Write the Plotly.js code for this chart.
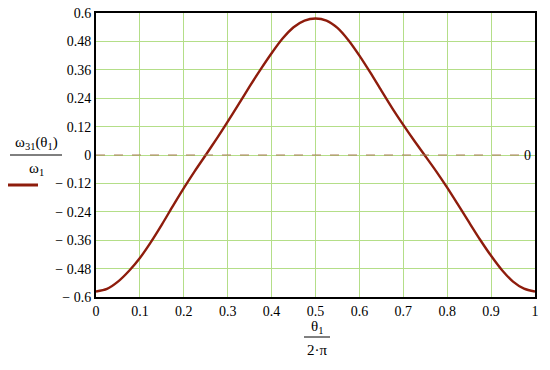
<!DOCTYPE html>
<html>
<head>
<meta charset="utf-8">
<script src="https://cdn.plot.ly/plotly-3.0.1.min.js"></script>
<style>
  body { margin: 0; background: #fff; }
  #plot { width: 550px; height: 370px; }
</style>
</head>
<body>
<div id="plot"></div>
<script>
// theta1 / (2*pi) in 0.025 steps
var thetaRatio = [0, 0.025, 0.05, 0.075, 0.1, 0.125, 0.15, 0.175, 0.2, 0.225,
    0.25, 0.275, 0.3, 0.325, 0.35, 0.375, 0.4, 0.425, 0.45, 0.475,
    0.5, 0.525, 0.55, 0.575, 0.6, 0.625, 0.65, 0.675, 0.7, 0.725,
    0.75, 0.775, 0.8, 0.825, 0.85, 0.875, 0.9, 0.925, 0.95, 0.975, 1];
// omega31(theta1) / omega1
var omegaRatio = [-0.577, -0.566, -0.535, -0.49, -0.435, -0.368, -0.294, -0.216, -0.14, -0.068,
    0.0, 0.069, 0.141, 0.215, 0.29, 0.362, 0.43, 0.492, 0.54, 0.568,
    0.577, 0.568, 0.537, 0.485, 0.42, 0.348, 0.272, 0.197, 0.127, 0.06,
    -0.004, -0.069, -0.138, -0.211, -0.285, -0.358, -0.426, -0.487, -0.535, -0.565, -0.577];

var xTicks = [0, 0.1, 0.2, 0.3, 0.4, 0.5, 0.6, 0.7, 0.8, 0.9, 1];
var xTickText = ['0', '0.1', '0.2', '0.3', '0.4', '0.5', '0.6', '0.7', '0.8', '0.9', '1'];
var yTicks = [0.6, 0.48, 0.36, 0.24, 0.12, 0, -0.12, -0.24, -0.36, -0.48, -0.6];
var yTickText = ['0.6', '0.48', '0.36', '0.24', '0.12', '0',
    '\u2212 0.12', '\u2212 0.24', '\u2212 0.36', '\u2212 0.48', '\u2212 0.6'];
var markerValue = 0;

var W = 550, H = 370;
var m = { l: 96, r: 15, t: 13, b: 73 };
function px(x) { return (x - m.l) / (W - m.l - m.r); }
function py(y) { return (H - m.b - y) / (H - m.t - m.b); }

var traceColor = '#8e1c0c';
var serif = 'Liberation Serif';

var curve = {
    x: thetaRatio,
    y: omegaRatio,
    type: 'scatter',
    mode: 'lines',
    line: { color: traceColor, width: 2.4, shape: 'spline', smoothing: 0.8 },
    hoverinfo: 'none'
};

function label(x, y, text) {
    return { xref: 'paper', yref: 'paper', x: px(x), y: py(y), text: text, showarrow: false,
             xanchor: 'center', yanchor: 'middle', font: { family: serif, size: 15, color: '#000' } };
}

var layout = {
    width: W,
    height: H,
    margin: m,
    paper_bgcolor: '#fff',
    plot_bgcolor: '#fff',
    showlegend: false,
    font: { family: serif, size: 14, color: '#000' },
    xaxis: {
        range: [0, 1],
        tickvals: xTicks,
        ticktext: xTickText,
        showgrid: true,
        gridcolor: '#b4de88',
        gridwidth: 1,
        zeroline: false,
        showline: true,
        linecolor: '#000',
        linewidth: 2,
        mirror: true,
        ticks: '',
        tickfont: { family: serif, size: 14, color: '#000' }
    },
    yaxis: {
        range: [-0.6, 0.6],
        tickvals: yTicks,
        ticktext: yTickText,
        showgrid: true,
        gridcolor: '#b4de88',
        gridwidth: 1,
        zeroline: false,
        showline: true,
        linecolor: '#000',
        linewidth: 2,
        mirror: true,
        ticks: '',
        tickfont: { family: serif, size: 14, color: '#000' }
    },
    shapes: [
        // marker line at 0
        { type: 'line', xref: 'paper', yref: 'y', x0: 0, x1: px(524), y0: markerValue, y1: markerValue,
          line: { color: '#a87a55', width: 1, dash: 'dash' } },
        // y title fraction bar
        { type: 'line', xref: 'paper', yref: 'paper', x0: px(10), x1: px(62), y0: py(155), y1: py(155),
          line: { color: '#000', width: 1 } },
        // legend sample
        { type: 'line', xref: 'paper', yref: 'paper', x0: px(8), x1: px(38), y0: py(185), y1: py(185),
          line: { color: traceColor, width: 3 } },
        // x title fraction bar
        { type: 'line', xref: 'paper', yref: 'paper', x0: px(304), x1: px(330), y0: py(337), y1: py(337),
          line: { color: '#000', width: 1 } }
    ],
    annotations: [
        { xref: 'paper', yref: 'y', x: 1, y: markerValue, text: '0', showarrow: false,
          xanchor: 'right', yanchor: 'middle', xshift: -2,
          font: { family: serif, size: 14, color: '#000' } },
        label(36, 143, '\u03c9<sub>31</sub>(\u03b8<sub>1</sub>)'),
        label(36, 169, '\u03c9<sub>1</sub>'),
        label(317, 327, '\u03b8<sub>1</sub>'),
        label(317, 350, '2\u00b7\u03c0')
    ]
};

Plotly.newPlot(document.getElementById('plot'), [curve], layout, { displayModeBar: false, staticPlot: true });
</script>
</body>
</html>
